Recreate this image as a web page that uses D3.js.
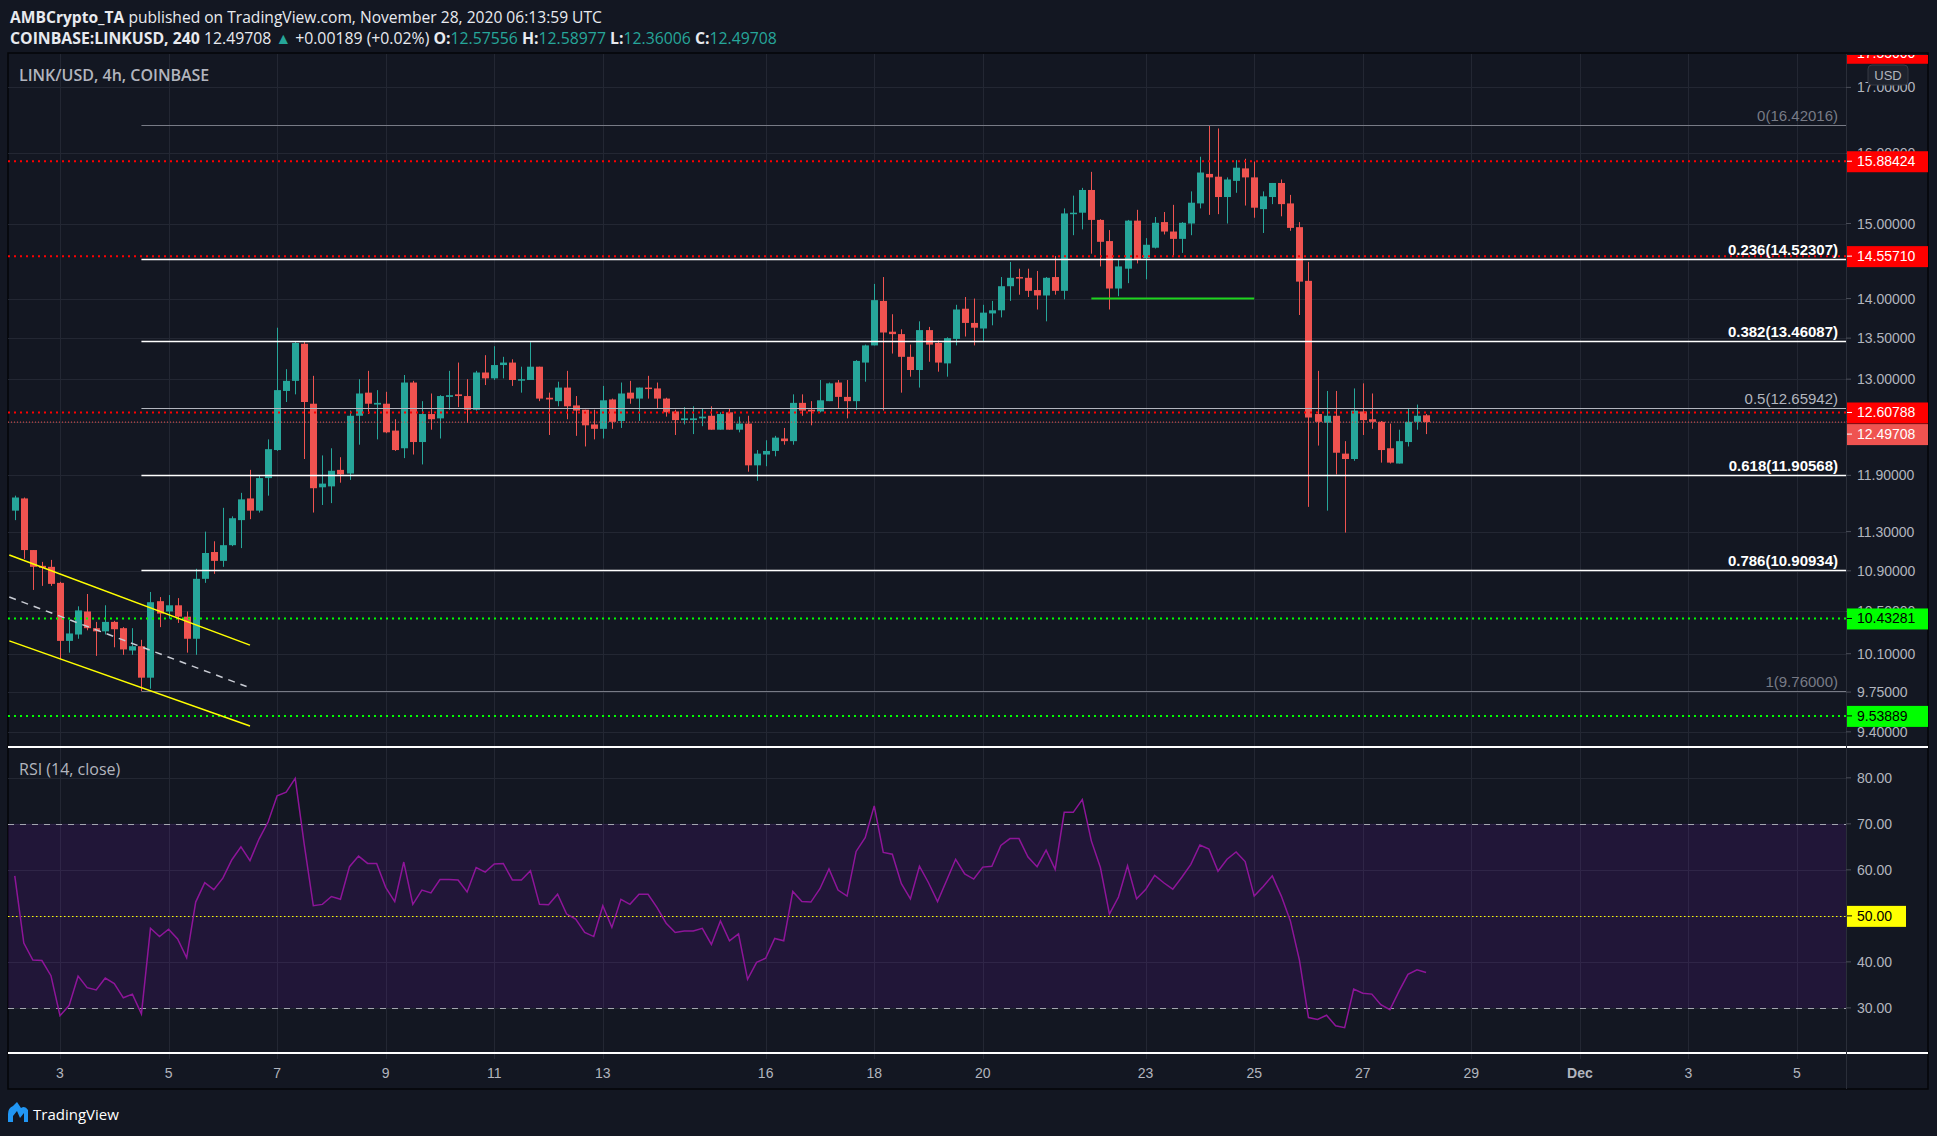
<!DOCTYPE html>
<html>
<head>
<meta charset="utf-8">
<title>LINK/USD 4h - COINBASE</title>
<script src="https://cdn.jsdelivr.net/npm/d3@7"></script>
<style>
  html, body { margin: 0; padding: 0; background: #131722; }
  svg { display: block; }
</style>
</head>
<body>
<div id="chart"></div>
<script>
const firstBar = Date.UTC(2020, 10, 2, 4);   // first visible 4h candle, Nov 2 04:00 UTC
const barHours = 4;

const opens = [11.52,11.65,11.11,10.95,10.94,10.78,10.22,10.28,10.50,10.34,
  10.31,10.40,10.34,10.13,10.17,9.88,10.60,10.50,10.56,10.45,
  10.24,10.82,11.09,11.00,11.16,11.42,11.65,11.52,11.87,12.18,
  12.86,12.98,13.43,12.71,11.77,11.78,11.96,11.92,12.57,12.84,
  12.70,12.71,12.40,12.20,12.96,12.27,12.59,12.54,12.79,12.82,
  12.80,12.64,13.08,13.01,13.17,13.20,12.99,12.99,13.15,12.78,
  12.74,12.90,12.69,12.64,12.47,12.42,12.76,12.51,12.84,12.77,
  12.90,12.89,12.77,12.62,12.52,12.52,12.54,12.57,12.41,12.61,
  12.41,12.48,12.01,12.13,12.17,12.31,12.28,12.72,12.64,12.62,
  12.74,12.96,12.79,12.74,13.20,13.41,13.97,13.58,13.55,13.27,
  13.11,13.60,13.44,13.19,13.49,13.87,13.69,13.62,13.81,13.85,
  14.16,14.28,14.27,14.11,14.04,14.28,14.10,15.13,15.15,15.47,
  15.05,14.76,14.13,14.39,15.04,14.53,14.67,15.02,14.89,14.79,
  15.00,15.28,15.70,15.66,15.37,15.60,15.78,15.65,15.20,15.37,
  15.57,15.28,14.95,14.23,12.59,12.49,12.57,12.14,12.08,12.62,
  12.53,12.50,12.20,12.03,12.27,12.50,12.57556];
const highs = [11.68,11.66,11.11,10.99,11.01,10.79,10.42,10.55,10.67,10.40,
  10.56,10.41,10.35,10.34,10.23,10.69,10.64,10.66,10.63,10.50,
  10.92,11.30,11.20,11.55,11.46,11.71,11.96,11.90,12.30,13.63,
  13.12,13.46,13.46,13.04,12.12,12.20,12.10,12.63,13.00,13.10,
  12.87,12.85,12.53,13.05,12.98,12.74,12.83,12.81,13.10,13.20,
  13.00,13.10,13.29,13.40,13.27,13.24,13.15,13.45,13.15,12.84,
  12.97,13.10,12.80,12.64,12.64,12.92,12.77,12.96,12.98,12.90,
  13.04,12.96,12.78,12.64,12.67,12.68,12.65,12.68,12.61,12.65,
  12.56,12.57,12.18,12.29,12.34,12.43,12.82,12.82,12.74,12.99,
  12.96,12.99,12.99,13.23,13.42,14.19,14.28,13.80,13.61,13.42,
  13.71,13.64,13.47,13.51,13.92,14.02,14.00,13.92,13.97,14.28,
  14.48,14.39,14.39,14.36,14.28,14.56,15.21,15.39,15.50,15.73,
  15.06,14.91,14.51,15.05,15.19,14.80,15.09,15.16,15.26,15.02,
  15.45,15.95,16.42,16.37,15.65,15.90,15.92,15.88,15.45,15.57,
  15.62,15.40,15.02,14.48,13.10,12.86,12.86,12.28,12.89,12.95,
  12.83,12.51,12.48,12.41,12.66,12.70,12.58977];
const lows = [11.42,11.02,10.71,10.75,10.75,10.05,10.11,10.24,10.32,10.08,
  10.28,10.16,10.09,10.09,9.76,9.78,10.35,10.43,10.39,10.11,
  10.09,10.78,10.87,10.94,11.15,11.13,11.43,11.50,11.68,12.17,
  12.73,12.82,12.08,11.50,11.58,11.60,11.82,11.85,12.24,12.59,
  12.30,12.37,12.17,12.09,12.13,12.02,12.41,12.31,12.64,12.67,
  12.49,12.63,12.93,12.99,13.01,12.92,12.84,12.99,12.74,12.35,
  12.68,12.53,12.34,12.22,12.30,12.31,12.42,12.43,12.71,12.51,
  12.77,12.65,12.56,12.35,12.47,12.36,12.45,12.41,12.41,12.41,
  12.38,11.94,11.84,12.00,12.11,12.24,12.24,12.57,12.46,12.61,
  12.74,12.66,12.54,12.64,12.97,13.41,12.63,13.31,12.84,13.03,
  12.90,13.21,13.09,13.03,13.41,13.52,13.41,13.46,13.66,13.76,
  13.97,14.05,14.02,13.86,13.71,14.05,13.99,14.84,14.92,14.59,
  14.42,13.86,14.03,14.20,14.46,14.25,14.66,14.85,14.56,14.60,
  14.84,15.21,15.12,15.13,15.00,15.43,15.25,15.08,14.87,15.27,
  15.10,14.90,13.79,11.56,12.23,11.52,11.91,11.29,12.06,12.35,
  12.42,12.04,12.03,12.03,12.22,12.41,12.36006];
const closes = [11.66,11.11,10.94,10.93,10.77,10.22,10.29,10.51,10.34,10.31,
  10.40,10.33,10.14,10.17,9.88,10.59,10.48,10.56,10.45,10.24,
  10.82,11.08,11.00,11.16,11.44,11.64,11.52,11.87,12.19,12.87,
  12.98,13.44,12.73,11.76,11.81,11.95,11.91,12.57,12.83,12.71,
  12.72,12.38,12.18,12.96,12.27,12.59,12.53,12.80,12.81,12.80,
  12.64,13.08,13.01,13.17,13.20,12.99,13.00,13.15,12.77,12.76,
  12.90,12.68,12.63,12.46,12.42,12.75,12.50,12.83,12.77,12.90,
  12.89,12.77,12.61,12.52,12.54,12.54,12.56,12.41,12.59,12.41,
  12.48,12.01,12.14,12.17,12.32,12.28,12.72,12.63,12.62,12.75,
  12.95,12.79,12.74,13.22,13.41,13.98,13.57,13.55,13.27,13.11,
  13.60,13.42,13.20,13.50,13.86,13.69,13.63,13.82,13.85,14.16,
  14.27,14.26,14.10,14.04,14.27,14.10,15.14,15.15,15.47,15.05,
  14.75,14.13,14.42,15.04,14.51,14.71,15.01,14.89,14.79,15.01,
  15.29,15.72,15.65,15.37,15.62,15.79,15.65,15.22,15.38,15.57,
  15.27,14.94,14.22,12.55,12.50,12.57,12.15,12.08,12.63,12.52,
  12.50,12.18,12.04,12.28,12.50,12.57,12.49708];
const rsiValues = [58.7,44.1,40.4,40.3,37.0,28.3,30.5,36.9,34.4,33.9,
  36.5,35.3,32.2,33.0,28.7,47.3,45.5,47.1,45.0,40.9,
  53.0,57.2,55.7,58.2,62.2,65.0,62.0,66.7,70.4,76.1,
  76.9,79.9,65.5,52.2,52.5,54.2,53.6,60.7,63.0,61.4,
  61.4,56.2,53.1,61.7,52.5,55.6,55.0,57.9,57.9,57.8,
  55.2,60.5,59.5,61.3,61.4,57.8,57.8,59.8,52.5,52.4,
  54.7,50.4,49.3,46.4,45.5,52.2,47.5,53.6,52.5,54.7,
  54.7,51.8,48.4,46.4,46.7,46.7,47.3,43.8,48.9,44.6,
  46.1,36.2,39.9,40.8,45.1,44.6,55.3,53.1,53.0,55.9,
  60.2,55.6,54.3,64.0,67.0,73.9,63.8,63.4,57.0,53.7,
  60.8,57.2,53.1,57.7,62.3,59.1,58.0,60.6,60.8,65.3,
  66.8,66.8,62.8,60.7,64.3,60.1,72.5,72.5,75.3,66.3,
  60.5,50.4,54.1,60.9,53.7,55.7,58.8,57.2,55.8,58.4,
  61.2,65.4,64.5,59.7,62.3,63.9,61.8,54.3,56.4,58.7,
  54.3,48.9,40.4,27.9,27.5,28.4,26.1,25.7,34.1,33.2,
  33.0,30.7,29.6,33.6,37.3,38.3,37.7];

const fibRatios = ["0", "0.236", "0.382", "0.5", "0.618", "0.786", "1"];
const fibPrices = [16.42016, 14.52307, 13.46087, 12.65942, 11.90568, 10.90934, 9.76];
const fibStart = Date.UTC(2020, 10, 4, 12);
const redLevels = [15.88424, 14.55710, 12.60788];
const greenLevels = [10.43281, 9.53889];
const offscreenRed = 17.55;
const lastPrice = 12.49708;
const priceTicks = [17, 16, 15, 14, 13.5, 13, 12.5, 11.9, 11.3, 10.9, 10.5, 10.1, 9.75, 9.4];
const hiddenTickLabels = [12.5];   // fully covered by the last-price tag
const rsiTicks = [80, 70, 60, 50, 40, 30];
const dayTicks = [
  [Date.UTC(2020,10,3), "3"], [Date.UTC(2020,10,5), "5"], [Date.UTC(2020,10,7), "7"],
  [Date.UTC(2020,10,9), "9"], [Date.UTC(2020,10,11), "11"], [Date.UTC(2020,10,13), "13"],
  [Date.UTC(2020,10,16), "16"], [Date.UTC(2020,10,18), "18"], [Date.UTC(2020,10,20), "20"],
  [Date.UTC(2020,10,23), "23"], [Date.UTC(2020,10,25), "25"], [Date.UTC(2020,10,27), "27"],
  [Date.UTC(2020,10,29), "29"], [Date.UTC(2020,11,1), "Dec"], [Date.UTC(2020,11,3), "3"],
  [Date.UTC(2020,11,5), "5"]
];
// falling channel drawn at the start of the month
const channelUpper = [[Date.UTC(2020,10,2,1,35), 11.06], [Date.UTC(2020,10,6,12), 10.18]];
const channelLower = [[Date.UTC(2020,10,2,1,35), 10.22], [Date.UTC(2020,10,6,12), 9.45]];
const channelMid   = [[Date.UTC(2020,10,2,1,35), 10.64], [Date.UTC(2020,10,6,10,30), 9.80]];
const supportLine  = [[Date.UTC(2020,10,22), 14.00], [Date.UTC(2020,10,25), 14.00]];

// ---- layout ----
const W = 1937, H = 1136;
const paneL = 8, paneR = 1846, axisR = 1928;
const mainTop = 54, mainBot = 747, rsiTop = 749, rsiBot = 1053, timeBot = 1089;
const UP = "#26a69a", DOWN = "#ef5350", GRID = "#232733", AXIS_TXT = "#b2b5be";
const FONT = "'Liberation Sans', Arial, sans-serif";

const bars = opens.map((o, i) => ({
  t: new Date(firstBar + i * barHours * 3600e3),
  o: o, h: highs[i], l: lows[i], c: closes[i], r: rsiValues[i]
}));

const svg = d3.select("#chart").append("svg")
  .attr("width", W).attr("height", H)
  .style("font-family", FONT);

svg.append("rect").attr("width", W).attr("height", H).attr("fill", "#131722");

const x = d3.scaleUtc()
  .domain([Date.UTC(2020, 10, 3), Date.UTC(2020, 11, 5)])
  .range([60, 1797]);
const y = d3.scaleLog().domain([9.27, 17.53]).range([mainBot, mainTop]);
const yr = d3.scaleLinear().domain([20.2, 86.7]).range([rsiBot, 747]);

const defs = svg.append("defs");
defs.append("clipPath").attr("id", "clipMain").append("rect")
  .attr("x", paneL).attr("y", mainTop).attr("width", paneR - paneL).attr("height", mainBot - mainTop);
defs.append("clipPath").attr("id", "clipRsi").append("rect")
  .attr("x", paneL).attr("y", rsiTop).attr("width", paneR - paneL).attr("height", rsiBot - rsiTop);
defs.append("clipPath").attr("id", "clipAxis").append("rect")
  .attr("x", paneR).attr("y", 55).attr("width", axisR - paneR).attr("height", timeBot - 55);

// chart frame background
svg.append("rect").attr("x", paneL).attr("y", mainTop - 1)
  .attr("width", axisR - paneL).attr("height", timeBot - mainTop + 1)
  .attr("fill", "#131722").attr("stroke", "#050608").attr("stroke-width", 1.5);

// ---- grid ----
const grid = svg.append("g");
dayTicks.forEach(([d]) => {
  grid.append("line")
    .attr("x1", Math.round(x(d)) + 0.5).attr("x2", Math.round(x(d)) + 0.5)
    .attr("y1", mainTop).attr("y2", rsiBot + 6)
    .attr("stroke", GRID);
});
priceTicks.forEach(p => {
  grid.append("line").attr("x1", paneL).attr("x2", paneR)
    .attr("y1", Math.round(y(p)) + 0.5).attr("y2", Math.round(y(p)) + 0.5)
    .attr("stroke", GRID);
});
rsiTicks.forEach(v => {
  grid.append("line").attr("x1", paneL).attr("x2", paneR)
    .attr("y1", Math.round(yr(v)) + 0.5).attr("y2", Math.round(yr(v)) + 0.5)
    .attr("stroke", GRID);
});

// ---- main pane ----
const main = svg.append("g").attr("clip-path", "url(#clipMain)");

const candles = main.append("g");
candles.selectAll("line.wick").data(bars).join("line")
  .attr("class", "wick")
  .attr("x1", d => Math.round(x(d.t)) + 0.5).attr("x2", d => Math.round(x(d.t)) + 0.5)
  .attr("y1", d => y(d.h)).attr("y2", d => y(d.l))
  .attr("stroke", d => d.c >= d.o ? UP : DOWN).attr("stroke-width", 1);
candles.selectAll("rect.body").data(bars).join("rect")
  .attr("class", "body")
  .attr("x", d => Math.round(x(d.t)) - 3)
  .attr("width", 7)
  .attr("y", d => y(Math.max(d.o, d.c)))
  .attr("height", d => Math.max(1.5, Math.abs(y(d.o) - y(d.c))))
  .attr("fill", d => d.c >= d.o ? UP : DOWN);

// horizontal levels
function hLevel(g, price, color, width, dash) {
  g.append("line").attr("x1", paneL).attr("x2", paneR)
    .attr("y1", y(price)).attr("y2", y(price))
    .attr("stroke", color).attr("stroke-width", width)
    .attr("stroke-dasharray", dash);
}
redLevels.forEach(p => hLevel(main, p, "#ff0000", 2, "2,4"));
greenLevels.forEach(p => hLevel(main, p, "#00ff00", 2, "2,4"));
hLevel(main, lastPrice, "#ef5350", 1, "1,2");

// fibonacci retracement
fibPrices.forEach((p, i) => {
  const r = fibRatios[i];
  const faint = (r === "0" || r === "1" || r === "0.5");
  const col = (r === "0" || r === "1") ? "#787b86" : (r === "0.5" ? "#b2b5be" : "#ffffff");
  main.append("line")
    .attr("x1", x(fibStart)).attr("x2", paneR)
    .attr("y1", Math.round(y(p)) + 0.5).attr("y2", Math.round(y(p)) + 0.5)
    .attr("stroke", col).attr("stroke-width", faint ? 1.2 : 1.5);
  main.append("text")
    .attr("x", 1838).attr("y", y(p) - 4)
    .attr("text-anchor", "end")
    .attr("fill", col)
    .attr("font-size", 15)
    .attr("font-weight", faint ? "normal" : "bold")
    .text(`${r}(${p.toFixed(5)})`);
});

// channel and support drawings
const seg = d3.line().x(d => x(d[0])).y(d => y(d[1]));
main.append("path").attr("d", seg(channelUpper)).attr("stroke", "#ffff00").attr("stroke-width", 1.5).attr("fill", "none");
main.append("path").attr("d", seg(channelLower)).attr("stroke", "#ffff00").attr("stroke-width", 1.5).attr("fill", "none");
main.append("path").attr("d", seg(channelMid)).attr("stroke", "#c9ccd4").attr("stroke-width", 1.5)
  .attr("stroke-dasharray", "7,6").attr("fill", "none");
main.append("path").attr("d", seg(supportLine)).attr("stroke", "#1ed41e").attr("stroke-width", 2).attr("fill", "none");

// ---- RSI pane ----
const rsiG = svg.append("g").attr("clip-path", "url(#clipRsi)");
rsiG.append("rect")
  .attr("x", paneL).attr("width", paneR - paneL)
  .attr("y", yr(70)).attr("height", yr(30) - yr(70))
  .attr("fill", "rgba(153, 21, 255, 0.1)");
[70, 30].forEach(v => {
  rsiG.append("line").attr("x1", paneL).attr("x2", paneR)
    .attr("y1", Math.round(yr(v)) + 0.5).attr("y2", Math.round(yr(v)) + 0.5)
    .attr("stroke", "#a3a6af").attr("stroke-dasharray", "6,6");
});
rsiG.append("line").attr("x1", paneL).attr("x2", paneR)
  .attr("y1", Math.round(yr(50)) + 0.5).attr("y2", Math.round(yr(50)) + 0.5)
  .attr("stroke", "#ffff00").attr("stroke-dasharray", "1.5,2.5");
rsiG.append("path").datum(bars)
  .attr("d", d3.line().x(d => x(d.t)).y(d => yr(d.r)))
  .attr("fill", "none").attr("stroke", "#8e1599").attr("stroke-width", 1.5);

// pane separators
[mainBot, rsiBot].forEach(v => {
  svg.append("line").attr("x1", paneL).attr("x2", axisR)
    .attr("y1", v).attr("y2", v).attr("stroke", "#ffffff").attr("stroke-width", 2);
});
svg.append("line").attr("x1", paneR + 0.5).attr("x2", paneR + 0.5)
  .attr("y1", mainTop).attr("y2", timeBot).attr("stroke", "#2a2e39");

// ---- price axis ----
const axisG = svg.append("g").attr("clip-path", "url(#clipAxis)");
priceTicks.forEach(p => {
  axisG.append("line").attr("x1", paneR).attr("x2", paneR + 5)
    .attr("y1", y(p)).attr("y2", y(p)).attr("stroke", "#4a4e59");
  if (hiddenTickLabels.includes(p)) return;
  axisG.append("text").attr("x", 1857).attr("y", y(p) + 5)
    .attr("fill", AXIS_TXT).attr("font-size", 14).text(p.toFixed(5));
});
rsiTicks.forEach(v => {
  axisG.append("line").attr("x1", paneR).attr("x2", paneR + 5)
    .attr("y1", yr(v)).attr("y2", yr(v)).attr("stroke", "#4a4e59");
  if (v === 50) return;
  axisG.append("text").attr("x", 1857).attr("y", yr(v) + 5)
    .attr("fill", AXIS_TXT).attr("font-size", 14).text(v.toFixed(2));
});

function axisLabel(yPos, txt, bg, fg, w) {
  axisG.append("rect").attr("x", paneR + 1).attr("y", yPos - 10)
    .attr("width", w).attr("height", 21).attr("fill", bg);
  axisG.append("line").attr("x1", paneR + 1).attr("x2", paneR + 6)
    .attr("y1", yPos).attr("y2", yPos).attr("stroke", fg);
  axisG.append("text").attr("x", 1857).attr("y", yPos + 5)
    .attr("fill", fg).attr("font-size", 14).text(txt);
}
axisLabel(y(offscreenRed), offscreenRed.toFixed(5), "#ff0000", "#ffffff", 81);
redLevels.forEach(p => axisLabel(y(p), p.toFixed(5), "#ff0000", "#ffffff", 81));
// last-price tag is pushed down so it does not cover the 12.60788 tag
axisLabel(y(lastPrice) + 12, lastPrice.toFixed(5), "#ef5350", "#ffffff", 81);
greenLevels.forEach(p => axisLabel(y(p), p.toFixed(5), "#00ff00", "#000000", 81));
axisLabel(yr(50), "50.00", "#ffff00", "#000000", 59);

// currency button
axisG.append("rect").attr("x", 1868).attr("y", 65).attr("width", 40).attr("height", 20)
  .attr("rx", 4).attr("fill", "#1e222d").attr("stroke", "#363a45");
axisG.append("text").attr("x", 1888).attr("y", 80).attr("text-anchor", "middle")
  .attr("fill", AXIS_TXT).attr("font-size", 13).text("USD");

// ---- time axis ----
dayTicks.forEach(([d, lab]) => {
  svg.append("text").attr("x", x(d)).attr("y", 1078)
    .attr("text-anchor", "middle").attr("fill", AXIS_TXT)
    .attr("font-size", 14).attr("font-weight", lab === "Dec" ? "bold" : "normal")
    .text(lab);
});

// ---- titles / legends ----
const HFONT = "'Open Sans', 'Noto Sans', sans-serif";
const h1 = svg.append("text").attr("x", 10).attr("y", 23)
  .attr("fill", "#e8eaef").attr("font-size", 15.6).style("font-family", HFONT);
h1.append("tspan").attr("font-weight", "bold").text("AMBCrypto_TA");
h1.append("tspan").text(" published on TradingView.com, November 28, 2020 06:13:59 UTC");

const h2 = svg.append("text").attr("x", 10).attr("y", 44)
  .attr("fill", "#e8eaef").attr("font-size", 15.8).style("font-family", HFONT);
h2.append("tspan").attr("font-weight", "bold").text("COINBASE:LINKUSD, 240");
h2.append("tspan").text(" 12.49708 ");
h2.append("tspan").attr("fill", UP).text("▲");
h2.append("tspan").text(" +0.00189 (+0.02%) ");
[["O:", "12.57556"], ["H:", "12.58977"], ["L:", "12.36006"], ["C:", "12.49708"]].forEach(([k, v]) => {
  h2.append("tspan").attr("font-weight", "bold").text(k);
  h2.append("tspan").attr("fill", UP).text(v + " ");
});

svg.append("text").attr("x", 19).attr("y", 81)
  .attr("fill", AXIS_TXT).attr("font-size", 16).attr("font-weight", 600)
  .style("font-family", HFONT).text("LINK/USD, 4h, COINBASE");
svg.append("text").attr("x", 19).attr("y", 775)
  .attr("fill", AXIS_TXT).attr("font-size", 16)
  .style("font-family", HFONT).text("RSI (14, close)");

// TradingView footer mark
const logo = svg.append("g").attr("transform", "translate(8,1102)");
logo.append("path")
  .attr("d", "M0,20 L0,12 Q0,6 5,4 L9,0 L13,6 Q17,3 20,8 L20,20 L16,20 L16,11 L12,16 L9,9 L5,14 L5,20 Z")
  .attr("fill", "#2196f3");
svg.append("text").attr("x", 33).attr("y", 1120)
  .attr("fill", "#ffffff").attr("font-size", 15)
  .style("font-family", HFONT).text("TradingView");
</script>
</body>
</html>
